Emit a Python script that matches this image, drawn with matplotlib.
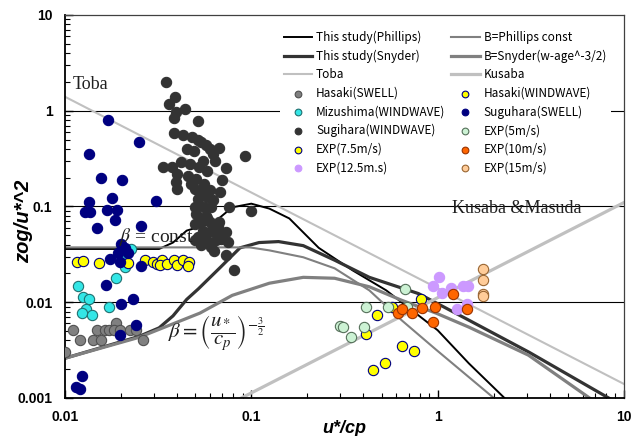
import numpy as np
import matplotlib
matplotlib.use('Agg')
import matplotlib.pyplot as plt
from matplotlib.ticker import NullFormatter, LogLocator

""" zog/u*^2 against u*/cp: field data, experiments and model curves """

phil_x = [0.01, 0.032, 0.038, 0.045, 0.063, 0.079, 0.1, 0.125, 0.16, 0.23, 0.35, 0.53, 1.0, 1.47, 2.4]
phil_y = [0.036, 0.036, 0.042, 0.056, 0.068, 0.098, 0.107, 0.095, 0.075, 0.037, 0.0215, 0.0133, 0.0051, 0.0023, 0.00091]

snyd_x = [0.01, 0.025, 0.032, 0.038, 0.045, 0.052, 0.068, 0.087, 0.11, 0.14, 0.19, 0.28, 0.43, 0.79, 1.47, 3.1, 9.0]
snyd_y = [0.0026, 0.0044, 0.0054, 0.0072, 0.0107, 0.0138, 0.023, 0.037, 0.042, 0.043, 0.039, 0.0275, 0.0182, 0.0123, 0.0065, 0.003, 0.00091]

bphil_x = [0.01, 0.098, 0.125, 0.19, 0.28, 0.43, 0.64, 0.98, 2.12]
bphil_y = [0.0374, 0.0374, 0.0348, 0.0295, 0.0226, 0.0133, 0.0065, 0.0032, 0.00091]

bsnyd_x = [0.01, 0.025, 0.053, 0.079, 0.125, 0.19, 0.28, 0.43, 0.64, 0.98, 1.47, 3.07, 7.0]
bsnyd_y = [0.0026, 0.0043, 0.0077, 0.0118, 0.0158, 0.0182, 0.0178, 0.0145, 0.0105, 0.0077, 0.0055, 0.0028, 0.00091]

toba_x = [0.01, 10]
toba_y = [1.4, 0.0014]

kusaba_x = [0.0885, 10]
kusaba_y = [0.001, 0.11]

# ---- observations ----
hasaki_swell_x = [0.01, 0.011, 0.0121, 0.0142, 0.0148, 0.0156, 0.0164, 0.0173, 0.0188, 0.0183, 0.0198, 0.0223, 0.024, 0.0262]
hasaki_swell_y = [0.00303, 0.0051, 0.00402, 0.00402, 0.0051, 0.00402, 0.0051, 0.0051, 0.006, 0.0051, 0.0051, 0.0051, 0.0051, 0.00407]

hasaki_ww_x = [0.0116, 0.0125, 0.0153, 0.0219, 0.0268, 0.0296, 0.0311, 0.0332, 0.0324, 0.0353, 0.0385, 0.040, 0.0428, 0.0463, 0.046]
hasaki_ww_y = [0.0264, 0.0271, 0.0255, 0.0258, 0.0277, 0.0264, 0.0249, 0.0277, 0.0243, 0.0252, 0.0274, 0.0246, 0.0277, 0.0264, 0.0240]

mizushima_x = [0.0117, 0.0125, 0.0135, 0.0129, 0.0123, 0.0139, 0.0173, 0.0189, 0.0209, 0.0225, 0.0202]
mizushima_y = [0.0149, 0.0113, 0.0109, 0.0086, 0.0077, 0.0073, 0.0089, 0.018, 0.0234, 0.0356, 0.0294]

suguhara_swell_x = [0.0171, 0.0249, 0.0135, 0.0157, 0.0203, 0.0135, 0.0179, 0.0307, 0.0128, 0.0137,
                    0.0168, 0.019, 0.0186, 0.0148, 0.0256, 0.0201, 0.0209, 0.0193, 0.0218, 0.0174,
                    0.0197, 0.0257, 0.0167, 0.0201, 0.0232, 0.024, 0.0198, 0.0124, 0.0115, 0.012]
suguhara_swell_y = [0.80, 0.47, 0.354, 0.197, 0.191, 0.111, 0.122, 0.113, 0.088, 0.088,
                    0.091, 0.093, 0.0715, 0.060, 0.063, 0.041, 0.0365, 0.033, 0.033, 0.028,
                    0.0263, 0.0237, 0.0153, 0.0097, 0.0108, 0.0058, 0.0045, 0.0017, 0.0013, 0.00123]

sugihara_ww_x = [0.035, 0.039, 0.036, 0.044, 0.0395, 0.0387, 0.052, 0.0387, 0.043, 0.048,
                 0.052, 0.054, 0.045, 0.049, 0.060, 0.0675, 0.093, 0.064, 0.0336, 0.0377,
                 0.042, 0.0466, 0.0527, 0.058, 0.073, 0.040, 0.0456, 0.0506, 0.0395, 0.0477,
                 0.056, 0.070, 0.040, 0.0496, 0.060, 0.052, 0.058, 0.062, 0.0496, 0.056,
                 0.061, 0.076, 0.0996, 0.0506, 0.057, 0.0496, 0.054, 0.060, 0.0675, 0.055,
                 0.061, 0.065, 0.073, 0.052, 0.057, 0.065, 0.075, 0.054, 0.061, 0.073,
                 0.081, 0.057, 0.062, 0.055, 0.068, 0.053, 0.058, 0.066, 0.050, 0.069, 0.063]
sugihara_ww_y = [2.0, 1.4, 1.19, 1.04, 0.98, 0.85, 0.79, 0.59, 0.56, 0.53,
                 0.49, 0.47, 0.40, 0.38, 0.40, 0.41, 0.34, 0.30, 0.257, 0.26,
                 0.29, 0.28, 0.257, 0.237, 0.25, 0.22, 0.21, 0.194, 0.179, 0.172,
                 0.172, 0.187, 0.153, 0.153, 0.147, 0.12, 0.125, 0.116, 0.098, 0.098,
                 0.098, 0.098, 0.089, 0.084, 0.0805, 0.066, 0.0686, 0.0686, 0.0686, 0.056,
                 0.056, 0.054, 0.054, 0.048, 0.046, 0.0443, 0.0425, 0.0393, 0.0377, 0.031,
                 0.0215, 0.44, 0.35, 0.30, 0.14, 0.14, 0.075, 0.062, 0.045, 0.046, 0.034]

exp5_x = [0.301, 0.311, 0.343, 0.402, 0.411, 0.540, 0.670, 0.685]
exp5_y = [0.00562, 0.00545, 0.00432, 0.00553, 0.00893, 0.00893, 0.0139, 0.00893]

exp75_x = [0.472, 0.568, 0.819, 0.412, 0.644, 0.749, 0.519, 0.450]
exp75_y = [0.00733, 0.00893, 0.0107, 0.00464, 0.00351, 0.00311, 0.00233, 0.00196]

exp10_x = [0.615, 0.646, 0.731, 0.824, 0.964, 0.940, 1.203, 1.446]
exp10_y = [0.00763, 0.00859, 0.00781, 0.00881, 0.00898, 0.0062, 0.0123, 0.00859]

exp125_x = [1.012, 0.944, 1.054, 1.18, 1.365, 1.452, 1.267, 1.446]
exp125_y = [0.01836, 0.01468, 0.0125, 0.01422, 0.01468, 0.01468, 0.00859, 0.00969]

exp15_x = [1.746, 1.746, 1.746, 1.746]
exp15_y = [0.0223, 0.01715, 0.01227, 0.01155]

y_ticks = [0.001, 0.01, 0.1, 1, 10]
y_tick_labels = ['0.001', '0.01', '0.1', '1', '10']
x_ticks = [0.01, 0.1, 1, 10]
x_tick_labels = ['0.01', '0.1', '1', '10']

fig = plt.figure(figsize=(6.32, 4.36), dpi=100)
ax = fig.add_axes([0.1028, 0.0872, 0.8845, 0.8784])
ax.set_xscale('log')
ax.set_yscale('log')
ax.set_xlim(0.01, 10)
ax.set_ylim(0.001, 10)

# horizontal decade lines
for yv in [0.01, 0.1, 1]:
   ax.axhline(yv, color='black', lw=0.8, zorder=1)

ax.plot(phil_x, phil_y, color='black', lw=1.4, label='This study(Phillips)', zorder=2)
ax.plot(snyd_x, snyd_y, color='#333333', lw=2.3, label='This study(Snyder)', zorder=2)
ax.plot(toba_x, toba_y, color='#c0c0c0', lw=1.5, label='Toba', zorder=2)
ax.plot(bphil_x, bphil_y, color='#808080', lw=1.5, label='B=Phillips const', zorder=2)
ax.plot(bsnyd_x, bsnyd_y, color='#808080', lw=2.3, label='B=Snyder(w-age^-3/2)', zorder=2)
ax.plot(kusaba_x, kusaba_y, color='#c0c0c0', lw=2.3, label='Kusaba', zorder=2)

def dots(x, y, face, edge, label):
   ax.scatter(x, y, s=55, facecolor=face, edgecolor=edge, linewidths=0.8, label=label, zorder=3)

dots(hasaki_swell_x, hasaki_swell_y, '#808080', '#505050', 'Hasaki(SWELL)')
dots(mizushima_x, mizushima_y, '#33e6e6', '#207070', 'Mizushima(WINDWAVE)')
dots(sugihara_ww_x, sugihara_ww_y, '#333333', '#333333', 'Sugihara(WINDWAVE)')
dots(exp75_x, exp75_y, '#ffff00', '#000080', 'EXP(7.5m/s)')
dots(exp125_x, exp125_y, '#cc99ff', '#cc99ff', 'EXP(12.5m.s)')
dots(hasaki_ww_x, hasaki_ww_y, '#ffff00', '#000080', 'Hasaki(WINDWAVE)')
dots(suguhara_swell_x, suguhara_swell_y, '#000080', '#000080', 'Suguhara(SWELL)')
dots(exp5_x, exp5_y, '#ccf2d4', '#55705a', 'EXP(5m/s)')
dots(exp10_x, exp10_y, '#ff6600', '#993300', 'EXP(10m/s)')
dots(exp15_x, exp15_y, '#ffcc99', '#996633', 'EXP(15m/s)')

# legend, filled column by column
h, l = ax.get_legend_handles_labels()
idx = {lab: i for i, lab in enumerate(l)}
order = ['This study(Phillips)', 'This study(Snyder)', 'Toba', 'Hasaki(SWELL)', 'Mizushima(WINDWAVE)',
         'Sugihara(WINDWAVE)', 'EXP(7.5m/s)', 'EXP(12.5m.s)',
         'B=Phillips const', 'B=Snyder(w-age^-3/2)', 'Kusaba', 'Hasaki(WINDWAVE)', 'Suguhara(SWELL)',
         'EXP(5m/s)', 'EXP(10m/s)', 'EXP(15m/s)']
leg = ax.legend([h[idx[o]] for o in order], order, ncol=2, loc='upper left',
                bbox_to_anchor=(280 / 632, 1 - 27 / 436), bbox_transform=fig.transFigure,
                prop={'family': ['Noto Sans CJK JP', 'DejaVu Sans'], 'size': 8.5},
                frameon=True, fancybox=False, edgecolor='none', facecolor='white', framealpha=1,
                handlelength=2.4, handletextpad=0.35, columnspacing=0.5, labelspacing=0.47,
                borderpad=0.3, borderaxespad=0, markerscale=0.65, scatterpoints=1)
leg.set_zorder(4)

# annotations
serif = 'Liberation Serif'
ax.text(0.011, 1.68, 'Toba', fontsize=13, family=serif, color='#202020', zorder=5)
ax.text(1.2, 0.0845, 'Kusaba &Masuda', fontsize=13, family=serif, color='#202020', zorder=5)
ax.text(0.0195, 0.0425, r'$\beta$ = const', fontsize=14, family=serif, math_fontfamily='stix',
        color='#202020', zorder=5)
ax.text(0.0356, 0.0047, r'$\beta = \left(\dfrac{u_*}{c_p}\right)^{-\frac{3}{2}}$', fontsize=15,
        math_fontfamily='stix', va='center', color='#202020', zorder=5)

# axes styling
bold = {'family': 'Liberation Sans', 'weight': 'bold', 'size': 10}
ax.set_xticks(x_ticks)
ax.set_xticklabels(x_tick_labels, fontdict=bold)
ax.set_yticks(y_ticks)
ax.set_yticklabels(y_tick_labels, fontdict=bold)
ax.xaxis.set_minor_locator(LogLocator(base=10, subs=np.arange(2, 10)))
ax.yaxis.set_minor_locator(LogLocator(base=10, subs=np.arange(2, 10)))
ax.xaxis.set_minor_formatter(NullFormatter())
ax.yaxis.set_minor_formatter(NullFormatter())
ax.tick_params(which='both', direction='in', top=False, right=False, color='black')
ax.tick_params(which='major', length=6, width=1.0, pad=9)
ax.tick_params(which='minor', length=3.5, width=0.8)

for side in ['left', 'bottom']:
   ax.spines[side].set_linewidth(1.3)
   ax.spines[side].set_color('black')
for side in ['top', 'right']:
   ax.spines[side].set_linewidth(0.9)
   ax.spines[side].set_color('#404040')

ax.set_xlabel('u*/cp', fontsize=13, fontweight='bold', style='italic', family='Liberation Sans', labelpad=-3)
ax.set_ylabel('zog/u*^2', fontsize=14.5, fontweight='bold', style='italic', family='Liberation Sans')
ax.yaxis.set_label_coords(-0.057, 0.462)

plt.savefig('out.png', dpi=100)
